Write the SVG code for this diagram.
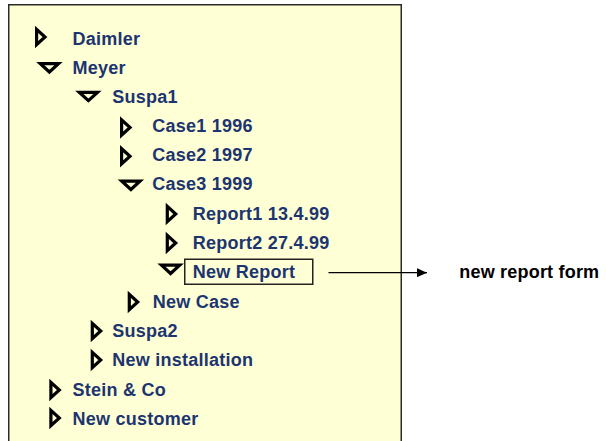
<svg xmlns="http://www.w3.org/2000/svg" width="606" height="441" viewBox="0 0 606 441">
  <style>
    .lbl { font-family: "Liberation Sans", Arial, Helvetica, sans-serif; font-weight: bold; font-size: 18px; letter-spacing: 0.25px; fill: #1c3470; }
    .note { font-family: "Liberation Sans", Arial, Helvetica, sans-serif; font-weight: bold; font-size: 18px; letter-spacing: 0.2px; fill: #000; }
    .tri { fill: none; stroke: #000; stroke-width: 3.2; stroke-linejoin: miter; stroke-miterlimit: 3; }
    .conn { stroke: #000; stroke-width: 1.2; fill: none; }
  </style>
  <defs>
    <!-- collapsed (right-pointing) and expanded (down-pointing) tree toggles -->
    <path id="closed" class="tri" d="M1.6,-7.6 L1.6,7.6 L10,0 Z"/>
    <path id="open" class="tri" d="M1.8,1.7 L20,1.7 L10.9,10 Z"/>
    <marker id="arrow" markerWidth="10" markerHeight="9" refX="10" refY="4.5" orient="auto" markerUnits="userSpaceOnUse">
      <path d="M0,0 L10,4.5 L0,9 Z" fill="#000"/>
    </marker>
  </defs>

  <!-- tree panel -->
  <rect x="8.75" y="4.75" width="392.5" height="450" fill="#ffffd5" stroke="#2a2a2a" stroke-width="1.5"/>

  <g id="daimler"><use href="#closed" x="35" y="37"/><text class="lbl" x="72.5" y="44.5">Daimler</text></g>
  <g id="meyer"><use href="#open" x="38.5" y="62"/><text class="lbl" x="72.5" y="73.5">Meyer</text></g>
  <g id="suspa1"><use href="#open" x="77.5" y="90.7"/><text class="lbl" x="112.3" y="102.7">Suspa1</text></g>
  <g id="case1"><use href="#closed" x="120" y="127.5"/><text class="lbl" x="152.3" y="132">Case1 1996</text></g>
  <g id="case2"><use href="#closed" x="120" y="156.3"/><text class="lbl" x="152.3" y="161">Case2 1997</text></g>
  <g id="case3"><use href="#open" x="120" y="179.5"/><text class="lbl" x="152.3" y="190">Case3 1999</text></g>
  <g id="report1"><use href="#closed" x="165.7" y="214"/><text class="lbl" x="192.7" y="219.5">Report1 13.4.99</text></g>
  <g id="report2"><use href="#closed" x="165.7" y="243"/><text class="lbl" x="192.7" y="248.5">Report2 27.4.99</text></g>
  <g id="new-report">
    <use href="#open" x="159.7" y="263.5"/>
    <rect x="184.75" y="259.25" width="128" height="25" fill="#ffffd5" stroke="#222" stroke-width="1.5"/>
    <text class="lbl" x="192.7" y="277.5">New Report</text>
  </g>
  <g id="new-case"><use href="#closed" x="127.7" y="302"/><text class="lbl" x="152.7" y="307.5">New Case</text></g>
  <g id="suspa2"><use href="#closed" x="90.7" y="331"/><text class="lbl" x="112.3" y="336.5">Suspa2</text></g>
  <g id="new-installation"><use href="#closed" x="90.7" y="360"/><text class="lbl" x="112.3" y="366">New installation</text></g>
  <g id="stein"><use href="#closed" x="49.3" y="390"/><text class="lbl" x="72.5" y="395.5">Stein &amp; Co</text></g>
  <g id="new-customer"><use href="#closed" x="49.3" y="418"/><text class="lbl" x="72.5" y="425">New customer</text></g>

  <g id="connectors">
    <line class="conn" x1="328.5" y1="272.7" x2="427" y2="272.7" marker-end="url(#arrow)"/>
  </g>

  <g id="report-form"><text class="note" x="459.3" y="277.5">new report form</text></g>
</svg>
